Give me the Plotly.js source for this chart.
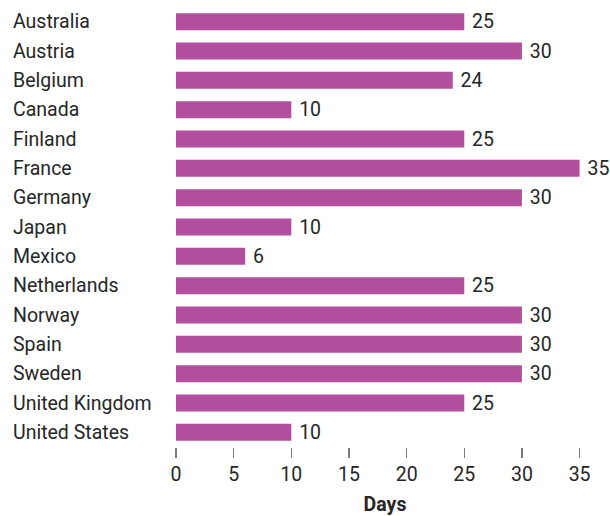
<!DOCTYPE html>
<html>
<head>
<meta charset="utf-8">
<script src="https://cdn.plot.ly/plotly-3.0.1.min.js"></script>
<style>
html,body{margin:0;padding:0;background:#fff;}
#chart{width:610px;height:516px;}
</style>
</head>
<body>
<div id="chart"></div>
<script>
const countries = ["Australia","Austria","Belgium","Canada","Finland","France","Germany","Japan","Mexico","Netherlands","Norway","Spain","Sweden","United Kingdom","United States"];
const days = [25,30,24,10,25,35,30,10,6,25,30,30,30,25,10];
const xTicks = [0,5,10,15,20,25,30,35];
const xTitle = "Days";

const FONT = "Roboto, sans-serif";
const TXT = "#262626";
const FS = 19.5;

const trace = {
  type: "bar",
  orientation: "h",
  y: countries,
  x: days,
  marker: {color: "#b24f9e"},
  text: days.map(v => "\u00a0" + v),
  textposition: "outside",
  textfont: {family: FONT, size: FS, color: TXT},
  cliponaxis: false,
  constraintext: "none",
  hoverinfo: "skip"
};

const annotations = countries.map(c => ({
  xref: "paper", yref: "y",
  x: 0, y: c,
  xanchor: "left", yanchor: "middle",
  xshift: -165,
  text: c,
  showarrow: false,
  font: {family: FONT, size: FS, color: TXT}
}));

const layout = {
  width: 610, height: 516,
  margin: {l: 176, r: 16, t: 7, b: 69},
  paper_bgcolor: "#fff", plot_bgcolor: "#fff",
  bargap: 0.42,
  showlegend: false,
  font: {family: FONT, size: FS, color: TXT},
  xaxis: {
    range: [0, 36.25],
    tickvals: xTicks,
    ticktext: xTicks.map(String),
    ticks: "outside", ticklen: 10, tickwidth: 1.5, tickcolor: "#7a7a7a",
    showgrid: false, zeroline: false, showline: false,
    tickfont: {family: FONT, size: FS, color: TXT},
    title: {text: "<b>" + xTitle + "</b>", font: {family: FONT, size: FS, color: TXT}, standoff: 14},
    automargin: false,
    fixedrange: true
  },
  yaxis: {
    autorange: "reversed",
    showticklabels: false,
    ticks: "",
    showgrid: false, zeroline: false, showline: false,
    automargin: false,
    fixedrange: true
  },
  annotations: annotations
};

Plotly.newPlot("chart", [trace], layout, {displayModeBar: false, staticPlot: true});
</script>
</body>
</html>
